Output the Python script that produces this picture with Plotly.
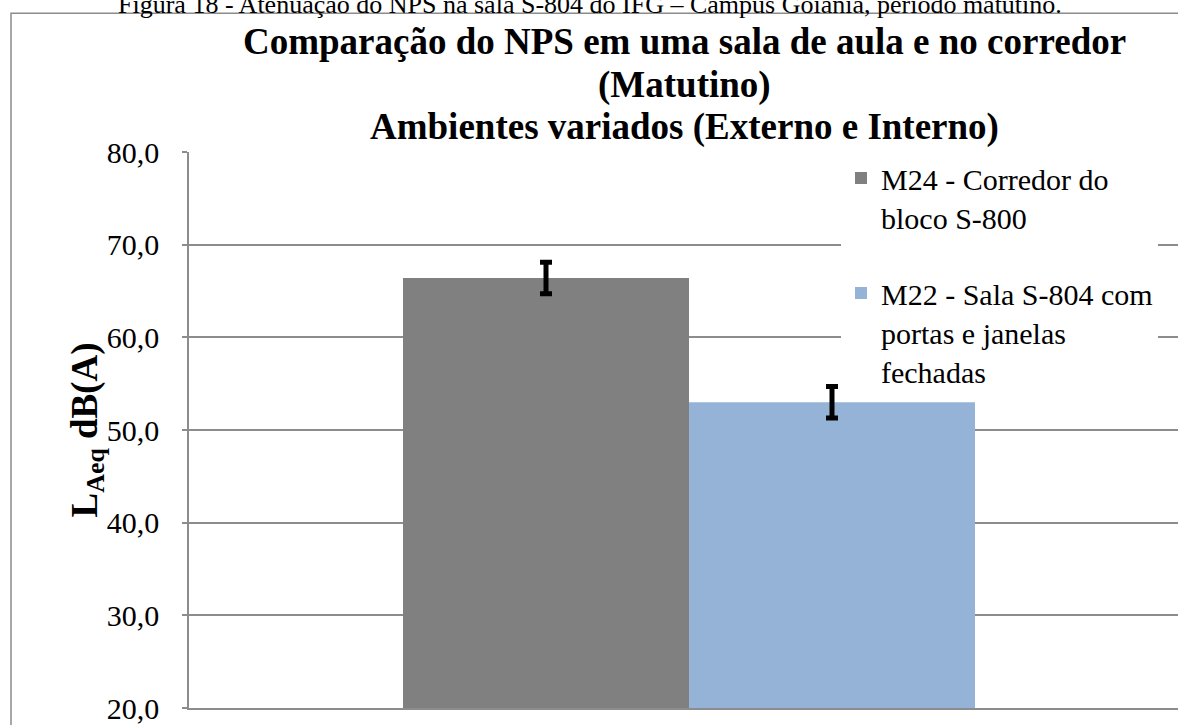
import plotly.graph_objects as go

categories = [""]
series_names = ["M24 - Corredor do<br>bloco S-800", "M22 - Sala S-804 com<br>portas e janelas<br>fechadas"]
series_values = [[66.4], [53.0]]
series_errors = [[1.7], [1.7]]
series_colors = ["#808080", "#95B3D7"]
tick_vals = [20, 30, 40, 50, 60, 70, 80]
tick_text = ["20,0", "30,0", "40,0", "50,0", "60,0", "70,0", "80,0"]

FONT = "Liberation Serif"
W, H = 1178, 725
L, R, T, B = 189, 0, 152, 12
PW, PH = W - L - R, H - T - B

def px(x):
    return (x - L) / PW

def py(y):
    return (H - B - y) / PH

fig = go.Figure()
for i, (name, vals, errs, col) in enumerate(zip(series_names, series_values, series_errors, series_colors)):
    fig.add_trace(go.Bar(
        x=categories, y=vals, name=name, marker=dict(color=col, line=dict(width=0)),
        error_y=dict(type="data", array=errs, color="black", thickness=5, width=6),
        legendgroup=f"g{i}",
    ))

fig.update_layout(
    width=W, height=H,
    margin=dict(l=L, r=R, t=T, b=B, pad=0),
    paper_bgcolor="white", plot_bgcolor="white",
    barmode="group", bargap=0.428, bargroupgap=0,
    font=dict(family=FONT, color="black"),
    showlegend=True,
    legend=dict(
        x=px(841), y=py(152), xanchor="left", yanchor="top",
        bgcolor="white", borderwidth=0, valign="top",
        font=dict(family=FONT, size=30, color="black"),
        traceorder="grouped", tracegroupgap=34,
        itemwidth=30,
    ),
    xaxis=dict(
        range=[-0.5, -0.5 + PW / 1000.0], showticklabels=False, showgrid=False,
        showline=True, linecolor="#8c8c8c", linewidth=1.5, ticks="", zeroline=False,
    ),
    yaxis=dict(
        range=[20, 80], tickmode="array", tickvals=tick_vals, ticktext=tick_text,
        showgrid=True, gridcolor="#8c8c8c", gridwidth=1.5,
        showline=True, linecolor="#8c8c8c", linewidth=1.5,
        ticks="outside", ticklen=5, tickcolor="#8c8c8c", tickwidth=1.5,
        ticklabelstandoff=17, ticklabeloverflow="allow",
        tickfont=dict(family=FONT, size=30, color="black"), zeroline=False,
    ),
)

title_lines = [
    ("Comparação do NPS em uma sala de aula e no corredor", 41),
    ("(Matutino)", 84),
    ("Ambientes variados (Externo e Interno)", 127),
]
for txt, yy in title_lines:
    fig.add_annotation(text=f"<b>{txt}</b>", xref="paper", yref="paper",
                       x=px(684), y=py(yy), xanchor="center", yanchor="middle",
                       showarrow=False, font=dict(family=FONT, size=37, color="black"))

fig.add_annotation(text="Figura 18 - Atenuação do NPS na sala S-804 do IFG – Campus Goiânia, período matutino.",
                   xref="paper", yref="paper", x=px(590), y=py(3), xanchor="center", yanchor="middle",
                   showarrow=False, font=dict(family=FONT, size=26, color="black"))

fig.add_annotation(text="<b>L<sub>Aeq</sub> dB(A)</b>", xref="paper", yref="paper",
                   x=px(87), y=py(433), xanchor="center", yanchor="middle", textangle=-90,
                   showarrow=False, font=dict(family=FONT, size=37, color="black"))

fig.add_shape(type="rect", xref="paper", yref="paper",
              x0=px(11), x1=px(1200), y0=py(740), y1=py(12),
              line=dict(color="#8c8c8c", width=1.5), fillcolor="rgba(0,0,0,0)", layer="below")

fig.write_html("out.html", config={"displayModeBar": False},
               post_script="document.body.style.margin='0';document.body.style.overflow='hidden';")
